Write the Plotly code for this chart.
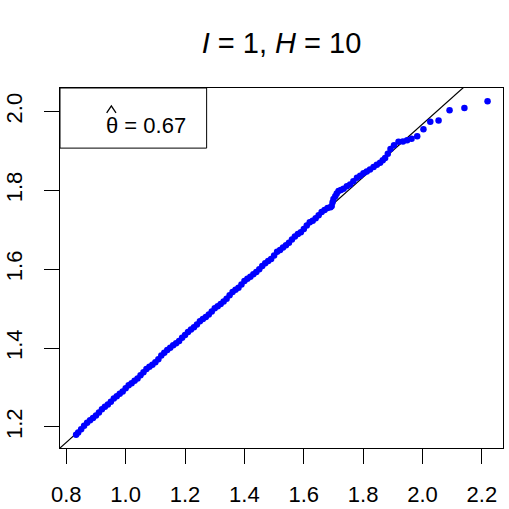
import plotly.graph_objects as go

# Sample quantiles (x) vs fitted quantiles (y)
qx = [0.833, 0.84, 0.85, 0.86, 0.87, 0.88, 0.89, 0.90, 0.91, 0.92, 0.93, 0.94, 0.95, 0.96, 0.97, 0.98, 0.99,
      1.00, 1.01, 1.02, 1.03, 1.04, 1.05, 1.06, 1.07, 1.08, 1.09, 1.10, 1.11, 1.12, 1.13, 1.14, 1.15, 1.16,
      1.17, 1.18, 1.19, 1.20, 1.21, 1.22, 1.23, 1.24, 1.25, 1.26, 1.27, 1.28, 1.29, 1.30, 1.31, 1.32, 1.33,
      1.34, 1.35, 1.36, 1.37, 1.38, 1.39, 1.40, 1.41, 1.42, 1.43, 1.44, 1.45, 1.46, 1.47, 1.48, 1.49, 1.50,
      1.51, 1.52, 1.53, 1.54, 1.55, 1.56, 1.57, 1.58, 1.59, 1.60, 1.61, 1.62, 1.63, 1.64, 1.65, 1.66, 1.67,
      1.68, 1.69, 1.694, 1.697, 1.700, 1.706, 1.711, 1.717, 1.725, 1.734, 1.745, 1.756, 1.767, 1.779, 1.790,
      1.801, 1.812, 1.823, 1.835, 1.846, 1.857, 1.866, 1.874, 1.883, 1.892, 1.904, 1.919, 1.934, 1.948,
      1.963, 1.982, 2.003, 2.026, 2.054, 2.091, 2.141, 2.219]
qy = [1.180, 1.186, 1.194, 1.203, 1.211, 1.217, 1.223, 1.229, 1.237, 1.245, 1.251, 1.257, 1.264, 1.272, 1.278, 1.284, 1.290,
      1.298, 1.306, 1.311, 1.317, 1.323, 1.331, 1.339, 1.347, 1.353, 1.358, 1.364, 1.372, 1.381, 1.388, 1.395, 1.401, 1.407,
      1.412, 1.418, 1.426, 1.433, 1.441, 1.447, 1.453, 1.460, 1.468, 1.474, 1.479, 1.485, 1.493, 1.501, 1.506, 1.512, 1.518,
      1.525, 1.534, 1.542, 1.548, 1.553, 1.561, 1.570, 1.576, 1.581, 1.587, 1.593, 1.600, 1.608, 1.615, 1.621, 1.626, 1.635,
      1.644, 1.649, 1.655, 1.661, 1.667, 1.675, 1.683, 1.689, 1.694, 1.702, 1.711, 1.719, 1.723, 1.729, 1.737, 1.745, 1.750,
      1.755, 1.757, 1.760, 1.770, 1.778, 1.785, 1.792, 1.798, 1.801, 1.804, 1.810, 1.815, 1.823, 1.832, 1.837,
      1.843, 1.848, 1.853, 1.859, 1.865, 1.870, 1.876, 1.882, 1.893, 1.905, 1.914, 1.923, 1.924, 1.927,
      1.931, 1.937, 1.955, 1.974, 1.977, 2.003, 2.009, 2.026]

# Reference line y = a + b x
line_a = 0.623
line_b = 0.6725
line_x = [0.70, 2.35]
line_y = [line_a + line_b * v for v in line_x]

x_ticks = [0.8, 1.0, 1.2, 1.4, 1.6, 1.8, 2.0, 2.2]
y_ticks = [1.2, 1.4, 1.6, 1.8, 2.0]
theta_hat = 0.67

FONT = "Liberation Sans, Arial, sans-serif"

fig = go.Figure()
fig.add_trace(go.Scatter(x=line_x, y=line_y, mode="lines",
                         line=dict(color="black", width=1.2), hoverinfo="skip", showlegend=False))
fig.add_trace(go.Scatter(x=qx, y=qy, mode="markers",
                         marker=dict(color="#0000FF", size=6.5, line=dict(width=0)), showlegend=False))

fig.update_layout(
    width=509, height=509,
    margin=dict(l=60, r=6, t=88, b=61, autoexpand=False),
    paper_bgcolor="white", plot_bgcolor="white",
    font=dict(family=FONT, color="black", size=22),
    title=dict(text="<i>I</i> = 1, <i>H</i> = 10", x=0.553, xanchor="center",
               y=1 - 43 / 509, yanchor="middle", font=dict(size=29, family=FONT)),
)
fig.update_xaxes(range=[0.7788, 2.271], tickvals=x_ticks, tickformat=".1f", automargin=False,
                 showgrid=False, zeroline=False, showline=True, mirror=True,
                 linecolor="black", linewidth=1, ticks="outside", ticklen=15,
                 tickcolor="black", tickwidth=1, ticklabelstandoff=12,
                 tickfont=dict(size=22))
fig.update_yaxes(range=[1.1467, 2.0594], tickvals=y_ticks, tickformat=".1f", automargin=False,
                 showgrid=False, zeroline=False, showline=True, mirror=True,
                 linecolor="black", linewidth=1, ticks="outside", ticklen=15,
                 tickcolor="black", tickwidth=1, tickangle=-90, ticklabelstandoff=13,
                 tickfont=dict(size=22))

# legend box
fig.add_shape(type="rect", xref="paper", yref="paper", x0=0, x1=0.331, y0=0.833, y1=1,
              line=dict(color="black", width=1), fillcolor="white", layer="above")
fig.add_annotation(xref="paper", yref="paper", x=0.1, y=0.8946, xanchor="left", yanchor="middle",
                   text="θ = %.2f" % theta_hat, showarrow=False, font=dict(size=22, family=FONT))
# hat accent over theta
fig.add_shape(type="path", xref="paper", yref="paper",
              path="M 0.1054 0.9306 L 0.1159 0.9500 L 0.1264 0.9306",
              line=dict(color="black", width=1.3), layer="above")

fig.write_html("out.html")
